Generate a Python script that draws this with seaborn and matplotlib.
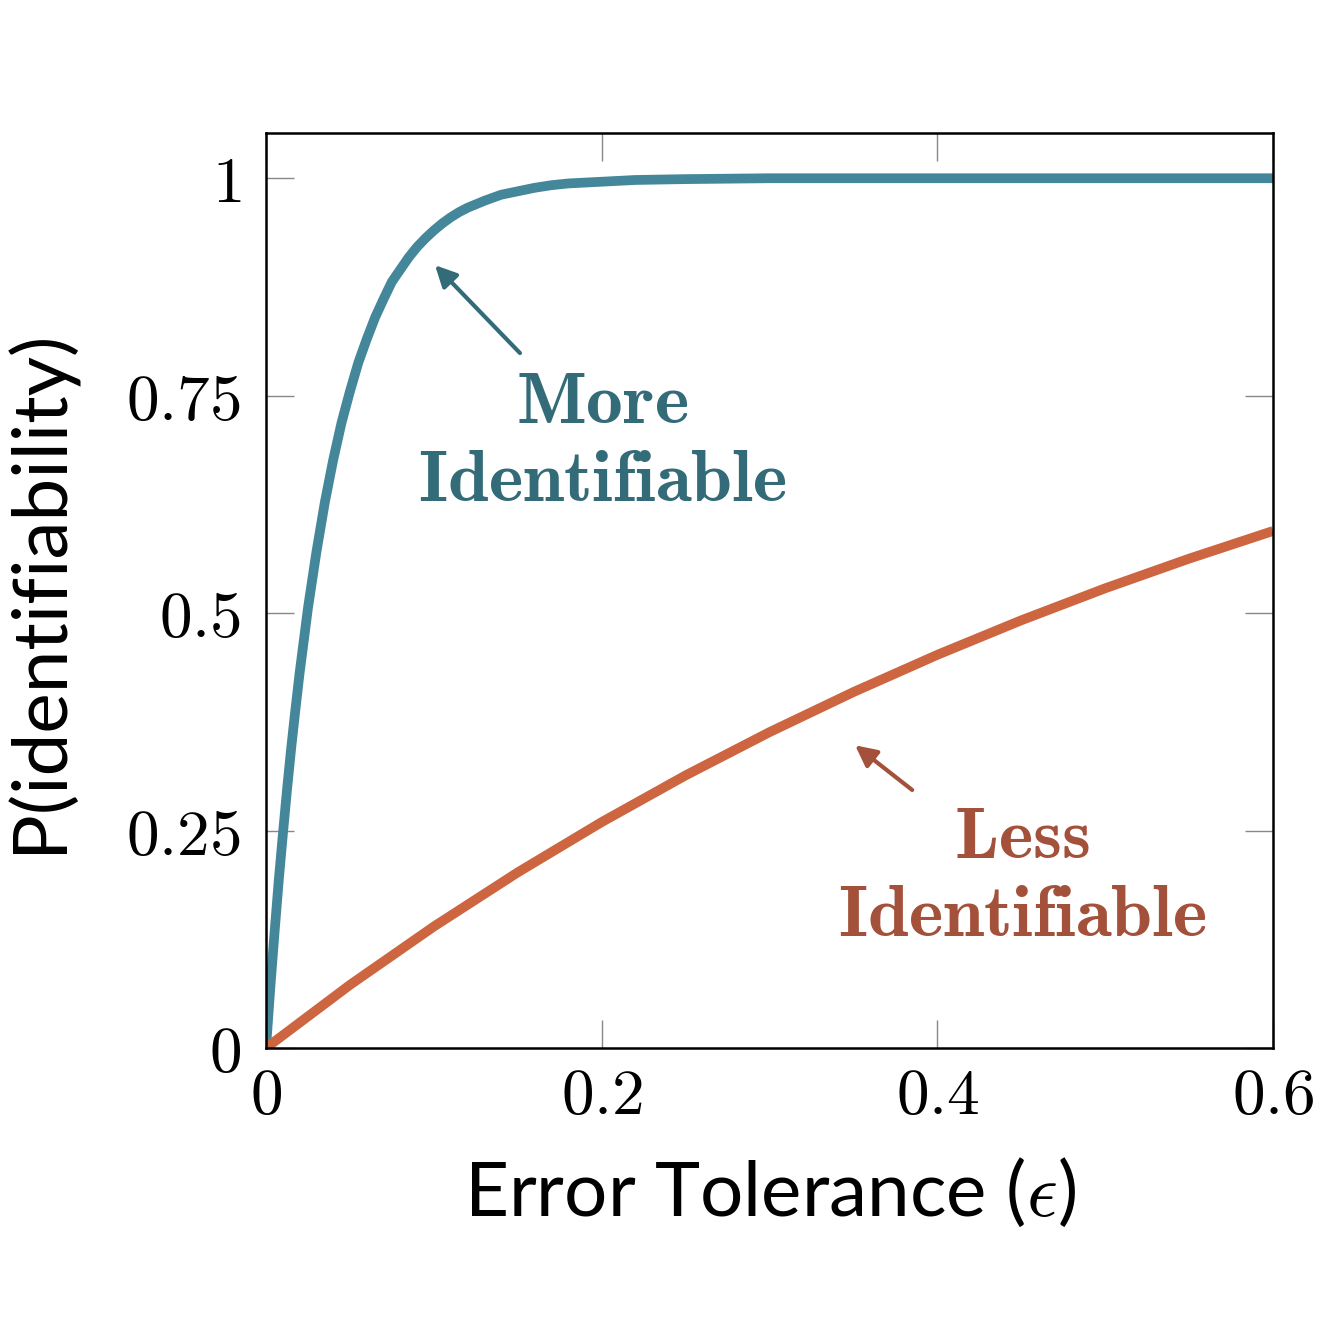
import numpy as np
import pandas as pd
import matplotlib
matplotlib.use("Agg")
import matplotlib.pyplot as plt
import seaborn as sns

# valores
eps_more = [0.0, 0.0025, 0.005, 0.0075, 0.01, 0.0125, 0.015, 0.0175, 0.02, 0.025,
            0.03, 0.035, 0.04, 0.045, 0.05, 0.055, 0.06, 0.065, 0.07, 0.075, 0.08,
            0.085, 0.09, 0.095, 0.1, 0.105, 0.11, 0.115, 0.12, 0.13, 0.14, 0.15,
            0.16, 0.17, 0.18, 0.2, 0.22, 0.25, 0.3, 0.4, 0.5, 0.6]
p_more = [0.0, 0.068, 0.131, 0.191, 0.245, 0.297, 0.345, 0.389, 0.431, 0.506,
          0.570, 0.627, 0.676, 0.719, 0.755, 0.788, 0.815, 0.840, 0.861, 0.881, 0.895,
          0.909, 0.921, 0.931, 0.940, 0.948, 0.955, 0.961, 0.966, 0.974, 0.981, 0.985,
          0.989, 0.992, 0.994, 0.996, 0.998, 0.999, 1.0, 1.0, 1.0, 1.0]

eps_less = [0.0, 0.05, 0.1, 0.15, 0.2, 0.25, 0.3, 0.35, 0.4, 0.45, 0.5, 0.55, 0.6]
p_less = [0.0, 0.0725, 0.1396, 0.2019, 0.2597, 0.3134, 0.3631, 0.4092, 0.4520,
          0.4917, 0.5285, 0.5626, 0.5944]

xticks = [0, 0.2, 0.4, 0.6]
xtick_labels = ["$0$", "$0.2$", "$0.4$", "$0.6$"]
yticks = [0, 0.25, 0.5, 0.75, 1]
ytick_labels = ["$0$", "$0.25$", "$0.5$", "$0.75$", "$1$"]

BLUE = "#44879a"
BLUE_TXT = "#336b78"
ORANGE = "#cc6540"
ORANGE_TXT = "#a3513a"

sns.set_theme(style="ticks")
plt.rcParams["font.family"] = ["Lato", "DejaVu Sans"]
plt.rcParams["mathtext.fontset"] = "cm"
plt.rcParams["text.color"] = "black"
plt.rcParams["axes.labelcolor"] = "black"
plt.rcParams["xtick.labelcolor"] = "black"
plt.rcParams["ytick.labelcolor"] = "black"

df_more = pd.DataFrame({"eps": eps_more, "p": p_more})
df_less = pd.DataFrame({"eps": eps_less, "p": p_less})

fig = plt.figure(figsize=(13.17, 13.17), dpi=100)
ax = fig.add_axes([0.202, 0.2043, 0.7646, 0.6947])

sns.lineplot(data=df_more, x="eps", y="p", ax=ax, color=BLUE, lw=7,
             solid_capstyle="butt", solid_joinstyle="round")
sns.lineplot(data=df_less, x="eps", y="p", ax=ax, color=ORANGE, lw=7,
             solid_capstyle="butt", solid_joinstyle="round")

ax.set_xlim(0, 0.6)
ax.set_ylim(0, 1.052)
ax.set_xticks(xticks)
ax.set_xticklabels(xtick_labels)
ax.set_yticks(yticks)
ax.set_yticklabels(ytick_labels)
ax.tick_params(direction="in", length=20, width=1.0, color="#888888",
               top=True, right=True, labelsize=47)
ax.tick_params(axis="x", pad=13)
ax.tick_params(axis="y", pad=18)
for s in ax.spines.values():
    s.set_linewidth(1.8)
    s.set_color("black")
    s.set_visible(True)

ax.set_xlabel(r"Error Tolerance ($\epsilon$)", fontsize=55, labelpad=22)
ax.set_ylabel("P(identifiability)", fontsize=55, labelpad=37)

# anotaciones
ax.annotate("", xy=(0.1007, 0.900), xytext=(0.1513, 0.799),
            arrowprops=dict(arrowstyle="-|>", color=BLUE_TXT, lw=3,
                            mutation_scale=32, shrinkA=0, shrinkB=0))
ax.text(0.2002, 0.697, "$\\mathbf{More}$\n$\\mathbf{Identifiable}$",
        color=BLUE_TXT, fontsize=53, ha="center", va="center",
        multialignment="center", linespacing=1.2)

ax.annotate("", xy=(0.351, 0.348), xytext=(0.385, 0.2966),
            arrowprops=dict(arrowstyle="-|>", color=ORANGE_TXT, lw=3,
                            mutation_scale=32, shrinkA=0, shrinkB=0))
ax.text(0.4505, 0.197, "$\\mathbf{Less}$\n$\\mathbf{Identifiable}$",
        color=ORANGE_TXT, fontsize=53, ha="center", va="center",
        multialignment="center", linespacing=1.2)

fig.savefig("out.png", dpi=100)
